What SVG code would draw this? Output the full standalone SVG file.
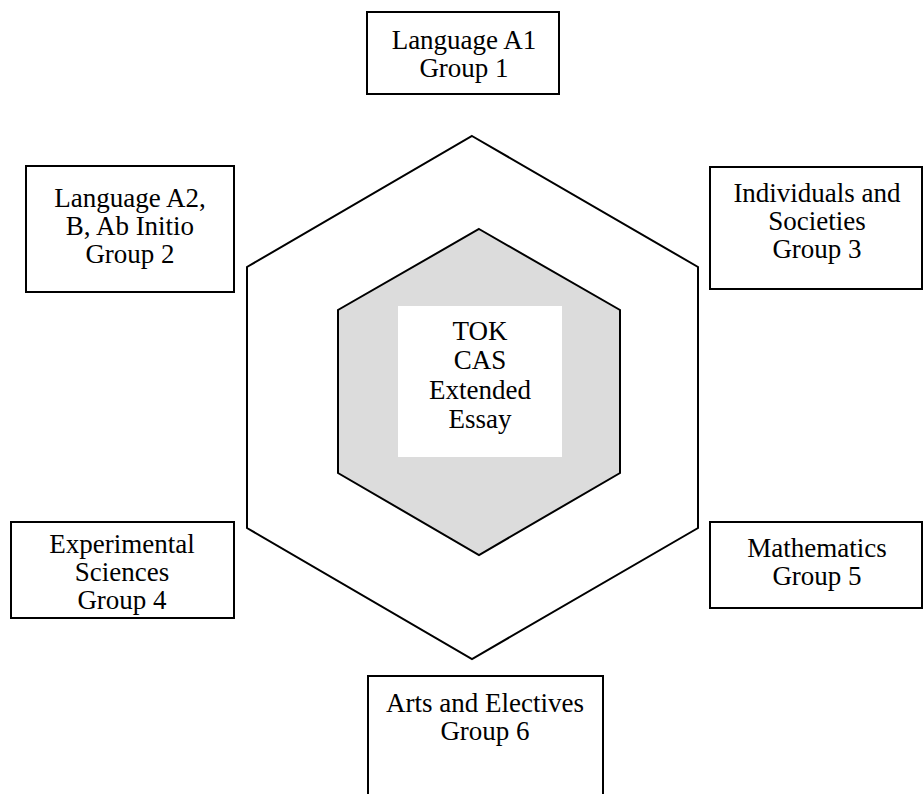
<svg xmlns="http://www.w3.org/2000/svg" width="923" height="794" viewBox="0 0 923 794">
<style>
.box{fill:#fff;stroke:#000;stroke-width:2}
.t{font-family:'Liberation Serif','Times New Roman',Times,serif;font-size:27px;fill:#000;text-anchor:middle}
.hex{stroke:#000;stroke-width:2;stroke-linejoin:miter}
</style>
<rect width="923" height="794" fill="#fff"/>
<g id="outer-hex">
<polygon class="hex" fill="#fff" points="472,136 698,267 698,528 472,659 247,528 247,267"/>
</g>
<g id="inner-hex">
<polygon class="hex" fill="#dcdcdc" points="479,229 620,310 620,473 479,555 338,473 338,310"/>
</g>
<g id="core">
<rect x="398" y="306" width="164" height="151" fill="#fff"/>
<text class="t"><tspan x="480" y="340">TOK</tspan><tspan x="480" y="369">CAS</tspan><tspan x="480" y="399">Extended</tspan><tspan x="480" y="428">Essay</tspan></text>
</g>
<g id="group1">
<rect class="box" x="367" y="12" width="192" height="82"/>
<text class="t"><tspan x="464" y="49">Language A1</tspan><tspan x="464" y="77">Group 1</tspan></text>
</g>
<g id="group2">
<rect class="box" x="26" y="166" width="208" height="126"/>
<text class="t"><tspan x="130" y="207">Language A2,</tspan><tspan x="130" y="235">B, Ab Initio</tspan><tspan x="130" y="263">Group 2</tspan></text>
</g>
<g id="group3">
<rect class="box" x="710" y="167" width="212" height="122"/>
<text class="t"><tspan x="817" y="202">Individuals and</tspan><tspan x="817" y="230">Societies</tspan><tspan x="817" y="258">Group 3</tspan></text>
</g>
<g id="group4">
<rect class="box" x="11" y="522" width="223" height="96"/>
<text class="t"><tspan x="122" y="553">Experimental</tspan><tspan x="122" y="581">Sciences</tspan><tspan x="122" y="609">Group 4</tspan></text>
</g>
<g id="group5">
<rect class="box" x="710" y="522" width="212" height="86"/>
<text class="t"><tspan x="817" y="557">Mathematics</tspan><tspan x="817" y="585">Group 5</tspan></text>
</g>
<g id="group6">
<rect class="box" x="368" y="676" width="235" height="130"/>
<text class="t"><tspan x="485" y="712">Arts and Electives</tspan><tspan x="485" y="740">Group 6</tspan></text>
</g>
<g id="connectors"></g>
</svg>
